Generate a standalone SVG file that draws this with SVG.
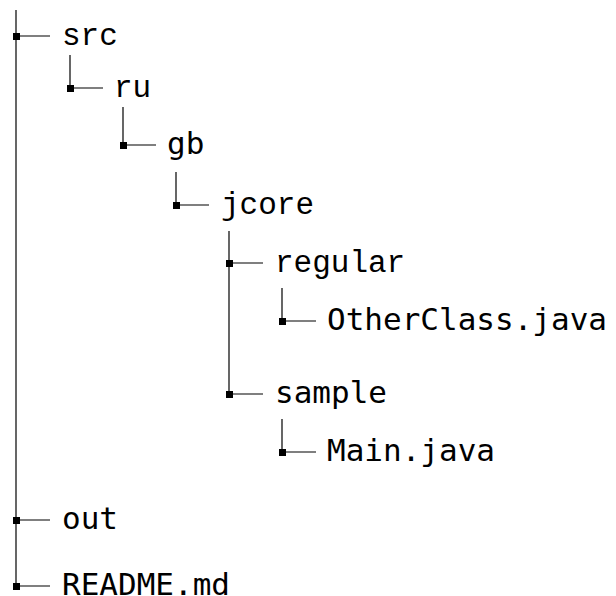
<svg xmlns="http://www.w3.org/2000/svg" width="616" height="596" viewBox="0 0 616 596">
<style>
.t{font-size:31px;fill:#000}
.lm{font-family:"Liberation Mono",monospace}
.dm{font-family:"DejaVu Sans Mono",monospace}
.c line{stroke:#000;stroke-width:1.2}
.m{fill:#000}
</style>
<rect width="616" height="596" fill="#fff"/>
<g id="connectors" class="c">
<line x1="16" y1="10" x2="16" y2="586"/>
<line x1="16" y1="36" x2="50" y2="36"/>
<line x1="70" y1="55" x2="70" y2="88"/>
<line x1="70" y1="88" x2="103" y2="88"/>
<line x1="123" y1="107" x2="123" y2="145"/>
<line x1="123" y1="145" x2="156" y2="145"/>
<line x1="176" y1="172" x2="176" y2="205"/>
<line x1="176" y1="205" x2="209" y2="205"/>
<line x1="229" y1="231" x2="229" y2="394"/>
<line x1="229" y1="263" x2="263" y2="263"/>
<line x1="282" y1="288" x2="282" y2="321"/>
<line x1="282" y1="321" x2="316" y2="321"/>
<line x1="229" y1="394" x2="263" y2="394"/>
<line x1="282" y1="419" x2="282" y2="452"/>
<line x1="282" y1="452" x2="316" y2="452"/>
<line x1="16" y1="520" x2="50" y2="520"/>
<line x1="16" y1="586" x2="50" y2="586"/>
</g>
<g id="src"><rect class="m" x="13" y="33" width="7" height="7"/><text class="t lm" x="62" y="45">src</text></g>
<g id="ru"><rect class="m" x="67" y="85" width="7" height="7"/><text class="t lm" x="114" y="97">ru</text></g>
<g id="gb"><rect class="m" x="120" y="142" width="7" height="7"/><text class="t dm" x="167" y="154">gb</text></g>
<g id="jcore"><rect class="m" x="173" y="202" width="7" height="7"/><text class="t lm" x="221" y="214">jcore</text></g>
<g id="regular"><rect class="m" x="226" y="260" width="7" height="7"/><text class="t lm" x="275" y="272">regular</text></g>
<g id="OtherClass"><rect class="m" x="279" y="318" width="7" height="7"/><text class="t dm" x="327" y="330">OtherClass.java</text></g>
<g id="sample"><rect class="m" x="226" y="391" width="7" height="7"/><text class="t dm" x="275" y="403">sample</text></g>
<g id="Main"><rect class="m" x="279" y="449" width="7" height="7"/><text class="t dm" x="327" y="461">Main.java</text></g>
<g id="out"><rect class="m" x="13" y="517" width="7" height="7"/><text class="t dm" x="62" y="529">out</text></g>
<g id="README"><rect class="m" x="13" y="583" width="7" height="7"/><text class="t dm" x="62" y="595">README.md</text></g>
</svg>
